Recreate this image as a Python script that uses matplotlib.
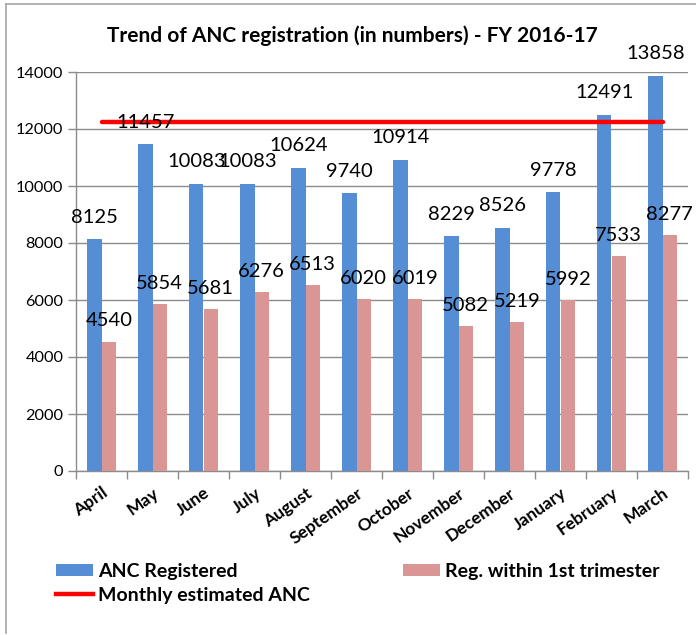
import matplotlib
matplotlib.use("Agg")
import matplotlib.pyplot as plt
from matplotlib.lines import Line2D
from matplotlib.patches import Patch
import numpy as np

months = ["April", "May", "June", "July", "August", "September", "October",
          "November", "December", "January", "February", "March"]
anc_registered = [8125, 11457, 10083, 10083, 10624, 9740, 10914, 8229, 8526, 9778, 12491, 13858]
first_trimester = [4540, 5854, 5681, 6276, 6513, 6020, 6019, 5082, 5219, 5992, 7533, 8277]
monthly_estimate = [12250] * 12
yticks = [0, 2000, 4000, 6000, 8000, 10000, 12000, 14000]

FONT = "Lato"
plt.rcParams["font.family"] = [FONT, "DejaVu Sans"]

BLUE = "#558ED5"
PINK = "#D99694"
RED = "#FF0000"
GRID = "#8C8C8C"

fig = plt.figure(figsize=(6.96, 6.35), dpi=100)
W, H = 696, 635
ax = fig.add_axes([76 / W, 1 - 471 / H, (688 - 76) / W, (471 - 72) / H])

x = np.arange(len(months))
bw = 0.285
ax.bar(x - bw / 2, anc_registered, bw, color=BLUE, zorder=3)
ax.bar(x + bw / 2, first_trimester, bw, color=PINK, zorder=3)
ax.plot(x, monthly_estimate, color=RED, lw=3.2, zorder=4, solid_capstyle="round")

for xi, v in zip(x, anc_registered):
    ax.annotate(str(v), (xi - bw / 2, v), xytext=(0, 16), textcoords="offset points",
                ha="center", va="center", fontsize=14.5, color="black", zorder=5)
for xi, v in zip(x, first_trimester):
    ax.annotate(str(v), (xi + bw / 2, v), xytext=(0, 15), textcoords="offset points",
                ha="center", va="center", fontsize=14.5, color="black", zorder=5)

ax.set_xlim(-0.5, len(months) - 0.5)
ax.set_ylim(0, 14000)
ax.set_yticks(yticks)
ax.set_yticklabels([str(t) for t in yticks], fontsize=11.7)
ax.yaxis.grid(True, color=GRID, lw=1, zorder=0)
ax.set_axisbelow(True)

ax.set_xticks(x)
ax.set_xticklabels(months, rotation=35, ha="right", rotation_mode="anchor",
                   fontsize=12.5, fontweight="bold")
ax.set_xticks(np.arange(len(months) + 1) - 0.5, minor=True)
ax.tick_params(axis="x", which="major", length=0, pad=10)
ax.tick_params(axis="x", which="minor", length=6, color=GRID, width=1)
ax.tick_params(axis="y", length=6, color=GRID, width=1, pad=3)

for s in ["top", "right"]:
    ax.spines[s].set_visible(False)
for s in ["left", "bottom"]:
    ax.spines[s].set_color(GRID)
    ax.spines[s].set_linewidth(1)

fig.text(352 / W, 1 - 36 / H, "Trend of ANC registration (in numbers) - FY 2016-17",
         ha="center", va="center", fontsize=15, fontweight="bold")

h_blue = Patch(facecolor=BLUE, edgecolor="none")
h_pink = Patch(facecolor=PINK, edgecolor="none")
h_red = Line2D([], [], color=RED, lw=3.2)
legprop = {"family": FONT, "weight": "bold", "size": 14}
fig.legend([h_blue, h_red], ["ANC Registered", "Monthly estimated ANC"],
           loc="upper left", bbox_to_anchor=(56 / W, 1 - 563 / H), frameon=False,
           prop=legprop, handlelength=1.9, handleheight=0.62, handletextpad=0.25,
           labelspacing=0.35, borderaxespad=0, borderpad=0)
fig.legend([h_pink], ["Reg. within 1st trimester"],
           loc="upper left", bbox_to_anchor=(403 / W, 1 - 563 / H), frameon=False,
           prop=legprop, handlelength=1.9, handleheight=0.62, handletextpad=0.25,
           borderaxespad=0, borderpad=0)

fig.add_artist(Line2D([6 / W, 6 / W], [1 - 4 / H, 1 - 633 / H], color="#A6A6A6", lw=1.2,
                      transform=fig.transFigure))
fig.add_artist(Line2D([6 / W, 1.0], [1 - 4 / H, 1 - 4 / H], color="#A6A6A6", lw=1.2,
                      transform=fig.transFigure))

fig.savefig("out.png", dpi=100)
